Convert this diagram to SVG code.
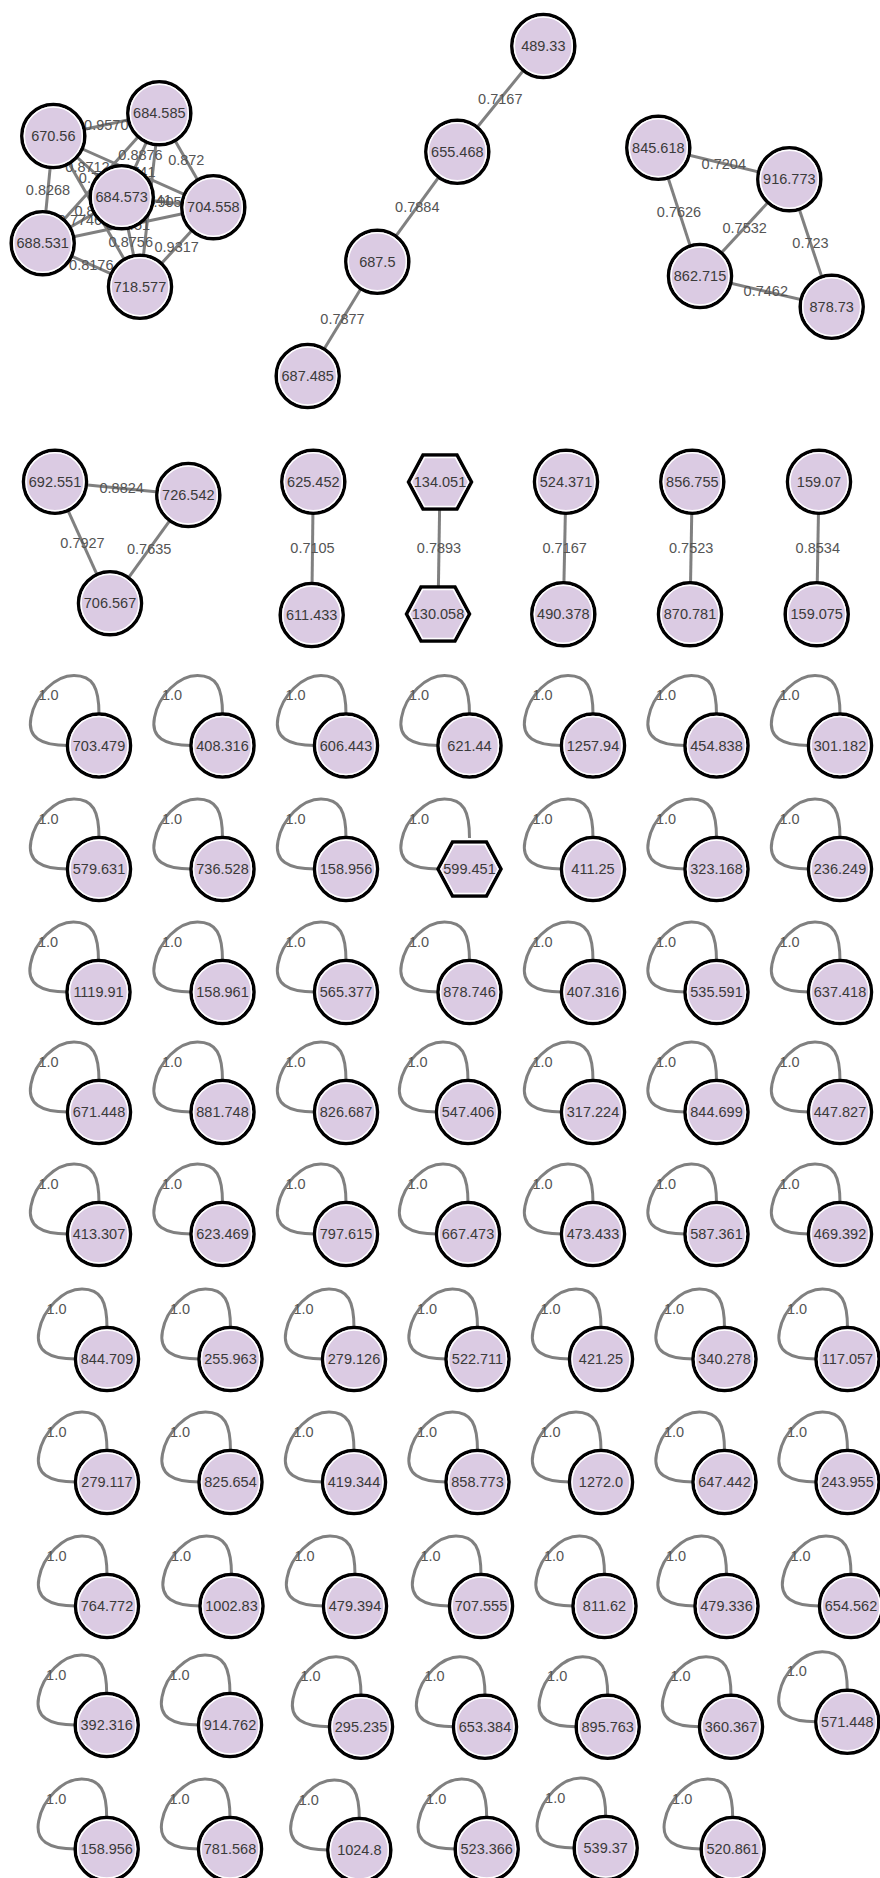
<svg xmlns="http://www.w3.org/2000/svg" width="880" height="1878" viewBox="0 0 880 1878">
<style>
.e{stroke:#808080;stroke-width:3;fill:none}
.lp{stroke:#808080;stroke-width:3;fill:none}
.el{font-family:"Liberation Sans",Arial,sans-serif;font-size:14.5px;fill:#555;text-anchor:middle}
.nb{fill:#dbcbe3;stroke:#000;stroke-width:3.5}
.nw{fill:none;stroke:#fff;stroke-width:1.5}
.nl{font-family:"Liberation Sans",Arial,sans-serif;font-size:14.5px;fill:#3a3a3a;text-anchor:middle}
</style>
<defs>
<path id="loop" d="M-31 0C-58 0-72-8-68-28C-64-50-44-70-25-70C-6-70 0-58 0-31"/>
</defs>
<rect width="880" height="1878" fill="#fff"/>
<g id="connectors">
<!-- cluster A -->
<line class="e" x1="53.3" y1="136" x2="159.3" y2="113.3"/>
<line class="e" x1="53.3" y1="136" x2="121.7" y2="197.3"/>
<line class="e" x1="53.3" y1="136" x2="213.3" y2="207.3"/>
<line class="e" x1="53.3" y1="136" x2="42.7" y2="243.3"/>
<line class="e" x1="53.3" y1="136" x2="140" y2="286.7"/>
<line class="e" x1="159.3" y1="113.3" x2="121.7" y2="197.3"/>
<line class="e" x1="159.3" y1="113.3" x2="213.3" y2="207.3"/>
<line class="e" x1="159.3" y1="113.3" x2="42.7" y2="243.3"/>
<line class="e" x1="159.3" y1="113.3" x2="140" y2="286.7"/>
<line class="e" x1="121.7" y1="197.3" x2="213.3" y2="207.3"/>
<line class="e" x1="121.7" y1="197.3" x2="42.7" y2="243.3"/>
<line class="e" x1="121.7" y1="197.3" x2="140" y2="286.7"/>
<line class="e" x1="213.3" y1="207.3" x2="42.7" y2="243.3"/>
<line class="e" x1="213.3" y1="207.3" x2="140" y2="286.7"/>
<line class="e" x1="42.7" y1="243.3" x2="140" y2="286.7"/>
<text class="el" x="106.3" y="129.7">0.9570</text>
<text class="el" x="87.5" y="171.7">0.8712</text>
<text class="el" x="133.3" y="176.7">0.8741</text>
<text class="el" x="48" y="194.7">0.8268</text>
<text class="el" x="96.7" y="216.3">0.8123</text>
<text class="el" x="140.5" y="160.3">0.8876</text>
<text class="el" x="186.3" y="165.3">0.872</text>
<text class="el" x="101" y="183.3">0.7813</text>
<text class="el" x="149.7" y="205">0.8841</text>
<text class="el" x="167.5" y="207.3">0.9058</text>
<text class="el" x="80" y="225.3">0.7746</text>
<text class="el" x="130.8" y="247">0.8756</text>
<text class="el" x="128" y="230.3">0.8451</text>
<text class="el" x="176.7" y="252">0.9317</text>
<text class="el" x="91.3" y="270">0.8176</text>
<!-- chain -->
<line class="e" x1="543.3" y1="46" x2="457.3" y2="151.7"/>
<line class="e" x1="457.3" y1="151.7" x2="377.3" y2="261.7"/>
<line class="e" x1="377.3" y1="261.7" x2="307.7" y2="376"/>
<text class="el" x="500.3" y="103.8">0.7167</text>
<text class="el" x="417.3" y="211.7">0.7884</text>
<text class="el" x="342.5" y="323.8">0.7877</text>
<!-- cluster C -->
<line class="e" x1="658.3" y1="147.7" x2="789.3" y2="179.3"/>
<line class="e" x1="658.3" y1="147.7" x2="700" y2="276"/>
<line class="e" x1="789.3" y1="179.3" x2="700" y2="276"/>
<line class="e" x1="789.3" y1="179.3" x2="831.7" y2="306.7"/>
<line class="e" x1="700" y1="276" x2="831.7" y2="306.7"/>
<text class="el" x="723.8" y="168.5">0.7204</text>
<text class="el" x="679" y="216.8">0.7626</text>
<text class="el" x="744.7" y="232.7">0.7532</text>
<text class="el" x="810.5" y="248">0.723</text>
<text class="el" x="765.8" y="296.3">0.7462</text>
<!-- triangle -->
<line class="e" x1="55" y1="481.7" x2="188.3" y2="495"/>
<line class="e" x1="55" y1="481.7" x2="110" y2="603.3"/>
<line class="e" x1="188.3" y1="495" x2="110" y2="603.3"/>
<text class="el" x="121.7" y="493.3">0.8824</text>
<text class="el" x="82.5" y="547.5">0.7927</text>
<text class="el" x="149.2" y="554.2">0.7635</text>
<!-- pairs -->
<line class="e" x1="313.3" y1="481.7" x2="311.7" y2="615"/>
<line class="e" x1="440" y1="482" x2="438" y2="614"/>
<line class="e" x1="566" y1="481.7" x2="563.3" y2="614.3"/>
<line class="e" x1="692.3" y1="481.7" x2="690" y2="614.3"/>
<line class="e" x1="819" y1="481.7" x2="816.7" y2="614.3"/>
<text class="el" x="312.5" y="553.3">0.7105</text>
<text class="el" x="439" y="553.3">0.7893</text>
<text class="el" x="564.7" y="553.3">0.7167</text>
<text class="el" x="691.2" y="553.3">0.7523</text>
<text class="el" x="817.8" y="553.3">0.8534</text>
<!-- self loops -->
<g transform="translate(99,745.5)"><use href="#loop" class="lp"/><text class="el" x="-50.5" y="-45.5">1.0</text></g>
<g transform="translate(222.5,745.5)"><use href="#loop" class="lp"/><text class="el" x="-50.5" y="-45.5">1.0</text></g>
<g transform="translate(346,745.5)"><use href="#loop" class="lp"/><text class="el" x="-50.5" y="-45.5">1.0</text></g>
<g transform="translate(469.5,745.5)"><use href="#loop" class="lp"/><text class="el" x="-50.5" y="-45.5">1.0</text></g>
<g transform="translate(593,745.5)"><use href="#loop" class="lp"/><text class="el" x="-50.5" y="-45.5">1.0</text></g>
<g transform="translate(716.5,745.5)"><use href="#loop" class="lp"/><text class="el" x="-50.5" y="-45.5">1.0</text></g>
<g transform="translate(840,745.5)"><use href="#loop" class="lp"/><text class="el" x="-50.5" y="-45.5">1.0</text></g>
<g transform="translate(99,869)"><use href="#loop" class="lp"/><text class="el" x="-50.5" y="-45.5">1.0</text></g>
<g transform="translate(222.5,869)"><use href="#loop" class="lp"/><text class="el" x="-50.5" y="-45.5">1.0</text></g>
<g transform="translate(346,869)"><use href="#loop" class="lp"/><text class="el" x="-50.5" y="-45.5">1.0</text></g>
<g transform="translate(469.5,869)"><use href="#loop" class="lp"/><text class="el" x="-50.5" y="-45.5">1.0</text></g>
<g transform="translate(593,869)"><use href="#loop" class="lp"/><text class="el" x="-50.5" y="-45.5">1.0</text></g>
<g transform="translate(716.5,869)"><use href="#loop" class="lp"/><text class="el" x="-50.5" y="-45.5">1.0</text></g>
<g transform="translate(840,869)"><use href="#loop" class="lp"/><text class="el" x="-50.5" y="-45.5">1.0</text></g>
<g transform="translate(98.5,992)"><use href="#loop" class="lp"/><text class="el" x="-50.5" y="-45.5">1.0</text></g>
<g transform="translate(222.5,992)"><use href="#loop" class="lp"/><text class="el" x="-50.5" y="-45.5">1.0</text></g>
<g transform="translate(346,992)"><use href="#loop" class="lp"/><text class="el" x="-50.5" y="-45.5">1.0</text></g>
<g transform="translate(469.5,992)"><use href="#loop" class="lp"/><text class="el" x="-50.5" y="-45.5">1.0</text></g>
<g transform="translate(593,992)"><use href="#loop" class="lp"/><text class="el" x="-50.5" y="-45.5">1.0</text></g>
<g transform="translate(716.5,992)"><use href="#loop" class="lp"/><text class="el" x="-50.5" y="-45.5">1.0</text></g>
<g transform="translate(840,992)"><use href="#loop" class="lp"/><text class="el" x="-50.5" y="-45.5">1.0</text></g>
<g transform="translate(99,1112)"><use href="#loop" class="lp"/><text class="el" x="-50.5" y="-45.5">1.0</text></g>
<g transform="translate(222.5,1112)"><use href="#loop" class="lp"/><text class="el" x="-50.5" y="-45.5">1.0</text></g>
<g transform="translate(346,1112)"><use href="#loop" class="lp"/><text class="el" x="-50.5" y="-45.5">1.0</text></g>
<g transform="translate(468,1112)"><use href="#loop" class="lp"/><text class="el" x="-50.5" y="-45.5">1.0</text></g>
<g transform="translate(593,1112)"><use href="#loop" class="lp"/><text class="el" x="-50.5" y="-45.5">1.0</text></g>
<g transform="translate(716.5,1112)"><use href="#loop" class="lp"/><text class="el" x="-50.5" y="-45.5">1.0</text></g>
<g transform="translate(840,1112)"><use href="#loop" class="lp"/><text class="el" x="-50.5" y="-45.5">1.0</text></g>
<g transform="translate(99,1234)"><use href="#loop" class="lp"/><text class="el" x="-50.5" y="-45.5">1.0</text></g>
<g transform="translate(222.5,1234)"><use href="#loop" class="lp"/><text class="el" x="-50.5" y="-45.5">1.0</text></g>
<g transform="translate(346,1234)"><use href="#loop" class="lp"/><text class="el" x="-50.5" y="-45.5">1.0</text></g>
<g transform="translate(468,1234)"><use href="#loop" class="lp"/><text class="el" x="-50.5" y="-45.5">1.0</text></g>
<g transform="translate(593,1234)"><use href="#loop" class="lp"/><text class="el" x="-50.5" y="-45.5">1.0</text></g>
<g transform="translate(716.5,1234)"><use href="#loop" class="lp"/><text class="el" x="-50.5" y="-45.5">1.0</text></g>
<g transform="translate(840,1234)"><use href="#loop" class="lp"/><text class="el" x="-50.5" y="-45.5">1.0</text></g>
<g transform="translate(107,1359)"><use href="#loop" class="lp"/><text class="el" x="-50.5" y="-45.5">1.0</text></g>
<g transform="translate(230.5,1359)"><use href="#loop" class="lp"/><text class="el" x="-50.5" y="-45.5">1.0</text></g>
<g transform="translate(354,1359)"><use href="#loop" class="lp"/><text class="el" x="-50.5" y="-45.5">1.0</text></g>
<g transform="translate(477.5,1359)"><use href="#loop" class="lp"/><text class="el" x="-50.5" y="-45.5">1.0</text></g>
<g transform="translate(601,1359)"><use href="#loop" class="lp"/><text class="el" x="-50.5" y="-45.5">1.0</text></g>
<g transform="translate(724.5,1359)"><use href="#loop" class="lp"/><text class="el" x="-50.5" y="-45.5">1.0</text></g>
<g transform="translate(847.5,1359)"><use href="#loop" class="lp"/><text class="el" x="-50.5" y="-45.5">1.0</text></g>
<g transform="translate(107,1482)"><use href="#loop" class="lp"/><text class="el" x="-50.5" y="-45.5">1.0</text></g>
<g transform="translate(230.5,1482)"><use href="#loop" class="lp"/><text class="el" x="-50.5" y="-45.5">1.0</text></g>
<g transform="translate(354,1482)"><use href="#loop" class="lp"/><text class="el" x="-50.5" y="-45.5">1.0</text></g>
<g transform="translate(477.5,1482)"><use href="#loop" class="lp"/><text class="el" x="-50.5" y="-45.5">1.0</text></g>
<g transform="translate(601,1482)"><use href="#loop" class="lp"/><text class="el" x="-50.5" y="-45.5">1.0</text></g>
<g transform="translate(724.5,1482)"><use href="#loop" class="lp"/><text class="el" x="-50.5" y="-45.5">1.0</text></g>
<g transform="translate(847.5,1482)"><use href="#loop" class="lp"/><text class="el" x="-50.5" y="-45.5">1.0</text></g>
<g transform="translate(107,1606)"><use href="#loop" class="lp"/><text class="el" x="-50.5" y="-45.5">1.0</text></g>
<g transform="translate(231.5,1606)"><use href="#loop" class="lp"/><text class="el" x="-50.5" y="-45.5">1.0</text></g>
<g transform="translate(355,1606)"><use href="#loop" class="lp"/><text class="el" x="-50.5" y="-45.5">1.0</text></g>
<g transform="translate(481,1606)"><use href="#loop" class="lp"/><text class="el" x="-50.5" y="-45.5">1.0</text></g>
<g transform="translate(604.5,1606)"><use href="#loop" class="lp"/><text class="el" x="-50.5" y="-45.5">1.0</text></g>
<g transform="translate(726.5,1606)"><use href="#loop" class="lp"/><text class="el" x="-50.5" y="-45.5">1.0</text></g>
<g transform="translate(851,1606)"><use href="#loop" class="lp"/><text class="el" x="-50.5" y="-45.5">1.0</text></g>
<g transform="translate(106.7,1725)"><use href="#loop" class="lp"/><text class="el" x="-50.5" y="-45.5">1.0</text></g>
<g transform="translate(230,1725)"><use href="#loop" class="lp"/><text class="el" x="-50.5" y="-45.5">1.0</text></g>
<g transform="translate(361,1726.7)"><use href="#loop" class="lp"/><text class="el" x="-50.5" y="-45.5">1.0</text></g>
<g transform="translate(485,1726.7)"><use href="#loop" class="lp"/><text class="el" x="-50.5" y="-45.5">1.0</text></g>
<g transform="translate(607.7,1726.7)"><use href="#loop" class="lp"/><text class="el" x="-50.5" y="-45.5">1.0</text></g>
<g transform="translate(731,1726.7)"><use href="#loop" class="lp"/><text class="el" x="-50.5" y="-45.5">1.0</text></g>
<g transform="translate(847.3,1721.7)"><use href="#loop" class="lp"/><text class="el" x="-50.5" y="-45.5">1.0</text></g>
<g transform="translate(106.7,1849)"><use href="#loop" class="lp"/><text class="el" x="-50.5" y="-45.5">1.0</text></g>
<g transform="translate(230,1849)"><use href="#loop" class="lp"/><text class="el" x="-50.5" y="-45.5">1.0</text></g>
<g transform="translate(359.3,1850)"><use href="#loop" class="lp"/><text class="el" x="-50.5" y="-45.5">1.0</text></g>
<g transform="translate(486.7,1849)"><use href="#loop" class="lp"/><text class="el" x="-50.5" y="-45.5">1.0</text></g>
<g transform="translate(605.7,1848)"><use href="#loop" class="lp"/><text class="el" x="-50.5" y="-45.5">1.0</text></g>
<g transform="translate(732.7,1849)"><use href="#loop" class="lp"/><text class="el" x="-50.5" y="-45.5">1.0</text></g>
</g>
<g id="nodes">
<g id="n670_56" transform="translate(53.3,136)"><circle class="nb" r="31.5"/><circle class="nw" r="29"/><text class="nl" y="5">670.56</text></g>
<g id="n684_585" transform="translate(159.3,113.3)"><circle class="nb" r="31.5"/><circle class="nw" r="29"/><text class="nl" y="5">684.585</text></g>
<g id="n684_573" transform="translate(121.7,197.3)"><circle class="nb" r="31.5"/><circle class="nw" r="29"/><text class="nl" y="5">684.573</text></g>
<g id="n704_558" transform="translate(213.3,207.3)"><circle class="nb" r="31.5"/><circle class="nw" r="29"/><text class="nl" y="5">704.558</text></g>
<g id="n688_531" transform="translate(42.7,243.3)"><circle class="nb" r="31.5"/><circle class="nw" r="29"/><text class="nl" y="5">688.531</text></g>
<g id="n718_577" transform="translate(140,286.7)"><circle class="nb" r="31.5"/><circle class="nw" r="29"/><text class="nl" y="5">718.577</text></g>
<g id="n489_33" transform="translate(543.3,46)"><circle class="nb" r="31.5"/><circle class="nw" r="29"/><text class="nl" y="5">489.33</text></g>
<g id="n655_468" transform="translate(457.3,151.7)"><circle class="nb" r="31.5"/><circle class="nw" r="29"/><text class="nl" y="5">655.468</text></g>
<g id="n687_5" transform="translate(377.3,261.7)"><circle class="nb" r="31.5"/><circle class="nw" r="29"/><text class="nl" y="5">687.5</text></g>
<g id="n687_485" transform="translate(307.7,376)"><circle class="nb" r="31.5"/><circle class="nw" r="29"/><text class="nl" y="5">687.485</text></g>
<g id="n845_618" transform="translate(658.3,147.7)"><circle class="nb" r="31.5"/><circle class="nw" r="29"/><text class="nl" y="5">845.618</text></g>
<g id="n916_773" transform="translate(789.3,179.3)"><circle class="nb" r="31.5"/><circle class="nw" r="29"/><text class="nl" y="5">916.773</text></g>
<g id="n862_715" transform="translate(700,276)"><circle class="nb" r="31.5"/><circle class="nw" r="29"/><text class="nl" y="5">862.715</text></g>
<g id="n878_73" transform="translate(831.7,306.7)"><circle class="nb" r="31.5"/><circle class="nw" r="29"/><text class="nl" y="5">878.73</text></g>
<g id="n692_551" transform="translate(55,481.7)"><circle class="nb" r="31.5"/><circle class="nw" r="29"/><text class="nl" y="5">692.551</text></g>
<g id="n726_542" transform="translate(188.3,495)"><circle class="nb" r="31.5"/><circle class="nw" r="29"/><text class="nl" y="5">726.542</text></g>
<g id="n706_567" transform="translate(110,603.3)"><circle class="nb" r="31.5"/><circle class="nw" r="29"/><text class="nl" y="5">706.567</text></g>
<g id="n625_452" transform="translate(313.3,481.7)"><circle class="nb" r="31.5"/><circle class="nw" r="29"/><text class="nl" y="5">625.452</text></g>
<g id="n611_433" transform="translate(311.7,615)"><circle class="nb" r="31.5"/><circle class="nw" r="29"/><text class="nl" y="5">611.433</text></g>
<g id="n134_051" transform="translate(440,482)"><polygon class="nb" points="-31.5,0 -17,-27 17,-27 31.5,0 17,27 -17,27"/><polygon class="nw" points="-28.5,0 -15.3,-24.6 15.3,-24.6 28.5,0 15.3,24.6 -15.3,24.6"/><text class="nl" y="5">134.051</text></g>
<g id="n130_058" transform="translate(438,614)"><polygon class="nb" points="-31.5,0 -17,-27 17,-27 31.5,0 17,27 -17,27"/><polygon class="nw" points="-28.5,0 -15.3,-24.6 15.3,-24.6 28.5,0 15.3,24.6 -15.3,24.6"/><text class="nl" y="5">130.058</text></g>
<g id="n524_371" transform="translate(566,481.7)"><circle class="nb" r="31.5"/><circle class="nw" r="29"/><text class="nl" y="5">524.371</text></g>
<g id="n490_378" transform="translate(563.3,614.3)"><circle class="nb" r="31.5"/><circle class="nw" r="29"/><text class="nl" y="5">490.378</text></g>
<g id="n856_755" transform="translate(692.3,481.7)"><circle class="nb" r="31.5"/><circle class="nw" r="29"/><text class="nl" y="5">856.755</text></g>
<g id="n870_781" transform="translate(690,614.3)"><circle class="nb" r="31.5"/><circle class="nw" r="29"/><text class="nl" y="5">870.781</text></g>
<g id="n159_07" transform="translate(819,481.7)"><circle class="nb" r="31.5"/><circle class="nw" r="29"/><text class="nl" y="5">159.07</text></g>
<g id="n159_075" transform="translate(816.7,614.3)"><circle class="nb" r="31.5"/><circle class="nw" r="29"/><text class="nl" y="5">159.075</text></g>
<g id="n703_479" transform="translate(99,745.5)"><circle class="nb" r="31.5"/><circle class="nw" r="29"/><text class="nl" y="5">703.479</text></g>
<g id="n408_316" transform="translate(222.5,745.5)"><circle class="nb" r="31.5"/><circle class="nw" r="29"/><text class="nl" y="5">408.316</text></g>
<g id="n606_443" transform="translate(346,745.5)"><circle class="nb" r="31.5"/><circle class="nw" r="29"/><text class="nl" y="5">606.443</text></g>
<g id="n621_44" transform="translate(469.5,745.5)"><circle class="nb" r="31.5"/><circle class="nw" r="29"/><text class="nl" y="5">621.44</text></g>
<g id="n1257_94" transform="translate(593,745.5)"><circle class="nb" r="31.5"/><circle class="nw" r="29"/><text class="nl" y="5">1257.94</text></g>
<g id="n454_838" transform="translate(716.5,745.5)"><circle class="nb" r="31.5"/><circle class="nw" r="29"/><text class="nl" y="5">454.838</text></g>
<g id="n301_182" transform="translate(840,745.5)"><circle class="nb" r="31.5"/><circle class="nw" r="29"/><text class="nl" y="5">301.182</text></g>
<g id="n579_631" transform="translate(99,869)"><circle class="nb" r="31.5"/><circle class="nw" r="29"/><text class="nl" y="5">579.631</text></g>
<g id="n736_528" transform="translate(222.5,869)"><circle class="nb" r="31.5"/><circle class="nw" r="29"/><text class="nl" y="5">736.528</text></g>
<g id="n158_956a" transform="translate(346,869)"><circle class="nb" r="31.5"/><circle class="nw" r="29"/><text class="nl" y="5">158.956</text></g>
<g id="n599_451" transform="translate(469.5,869)"><polygon class="nb" points="-31.5,0 -17,-27 17,-27 31.5,0 17,27 -17,27"/><polygon class="nw" points="-28.5,0 -15.3,-24.6 15.3,-24.6 28.5,0 15.3,24.6 -15.3,24.6"/><text class="nl" y="5">599.451</text></g>
<g id="n411_25a" transform="translate(593,869)"><circle class="nb" r="31.5"/><circle class="nw" r="29"/><text class="nl" y="5">411.25</text></g>
<g id="n323_168" transform="translate(716.5,869)"><circle class="nb" r="31.5"/><circle class="nw" r="29"/><text class="nl" y="5">323.168</text></g>
<g id="n236_249" transform="translate(840,869)"><circle class="nb" r="31.5"/><circle class="nw" r="29"/><text class="nl" y="5">236.249</text></g>
<g id="n1119_91" transform="translate(98.5,992)"><circle class="nb" r="31.5"/><circle class="nw" r="29"/><text class="nl" y="5">1119.91</text></g>
<g id="n158_961" transform="translate(222.5,992)"><circle class="nb" r="31.5"/><circle class="nw" r="29"/><text class="nl" y="5">158.961</text></g>
<g id="n565_377" transform="translate(346,992)"><circle class="nb" r="31.5"/><circle class="nw" r="29"/><text class="nl" y="5">565.377</text></g>
<g id="n878_746" transform="translate(469.5,992)"><circle class="nb" r="31.5"/><circle class="nw" r="29"/><text class="nl" y="5">878.746</text></g>
<g id="n407_316" transform="translate(593,992)"><circle class="nb" r="31.5"/><circle class="nw" r="29"/><text class="nl" y="5">407.316</text></g>
<g id="n535_591" transform="translate(716.5,992)"><circle class="nb" r="31.5"/><circle class="nw" r="29"/><text class="nl" y="5">535.591</text></g>
<g id="n637_418" transform="translate(840,992)"><circle class="nb" r="31.5"/><circle class="nw" r="29"/><text class="nl" y="5">637.418</text></g>
<g id="n671_448" transform="translate(99,1112)"><circle class="nb" r="31.5"/><circle class="nw" r="29"/><text class="nl" y="5">671.448</text></g>
<g id="n881_748" transform="translate(222.5,1112)"><circle class="nb" r="31.5"/><circle class="nw" r="29"/><text class="nl" y="5">881.748</text></g>
<g id="n826_687" transform="translate(346,1112)"><circle class="nb" r="31.5"/><circle class="nw" r="29"/><text class="nl" y="5">826.687</text></g>
<g id="n547_406" transform="translate(468,1112)"><circle class="nb" r="31.5"/><circle class="nw" r="29"/><text class="nl" y="5">547.406</text></g>
<g id="n317_224" transform="translate(593,1112)"><circle class="nb" r="31.5"/><circle class="nw" r="29"/><text class="nl" y="5">317.224</text></g>
<g id="n844_699" transform="translate(716.5,1112)"><circle class="nb" r="31.5"/><circle class="nw" r="29"/><text class="nl" y="5">844.699</text></g>
<g id="n447_827" transform="translate(840,1112)"><circle class="nb" r="31.5"/><circle class="nw" r="29"/><text class="nl" y="5">447.827</text></g>
<g id="n413_307" transform="translate(99,1234)"><circle class="nb" r="31.5"/><circle class="nw" r="29"/><text class="nl" y="5">413.307</text></g>
<g id="n623_469" transform="translate(222.5,1234)"><circle class="nb" r="31.5"/><circle class="nw" r="29"/><text class="nl" y="5">623.469</text></g>
<g id="n797_615" transform="translate(346,1234)"><circle class="nb" r="31.5"/><circle class="nw" r="29"/><text class="nl" y="5">797.615</text></g>
<g id="n667_473" transform="translate(468,1234)"><circle class="nb" r="31.5"/><circle class="nw" r="29"/><text class="nl" y="5">667.473</text></g>
<g id="n473_433" transform="translate(593,1234)"><circle class="nb" r="31.5"/><circle class="nw" r="29"/><text class="nl" y="5">473.433</text></g>
<g id="n587_361" transform="translate(716.5,1234)"><circle class="nb" r="31.5"/><circle class="nw" r="29"/><text class="nl" y="5">587.361</text></g>
<g id="n469_392" transform="translate(840,1234)"><circle class="nb" r="31.5"/><circle class="nw" r="29"/><text class="nl" y="5">469.392</text></g>
<g id="n844_709" transform="translate(107,1359)"><circle class="nb" r="31.5"/><circle class="nw" r="29"/><text class="nl" y="5">844.709</text></g>
<g id="n255_963" transform="translate(230.5,1359)"><circle class="nb" r="31.5"/><circle class="nw" r="29"/><text class="nl" y="5">255.963</text></g>
<g id="n279_126" transform="translate(354,1359)"><circle class="nb" r="31.5"/><circle class="nw" r="29"/><text class="nl" y="5">279.126</text></g>
<g id="n522_711" transform="translate(477.5,1359)"><circle class="nb" r="31.5"/><circle class="nw" r="29"/><text class="nl" y="5">522.711</text></g>
<g id="n421_25b" transform="translate(601,1359)"><circle class="nb" r="31.5"/><circle class="nw" r="29"/><text class="nl" y="5">421.25</text></g>
<g id="n340_278" transform="translate(724.5,1359)"><circle class="nb" r="31.5"/><circle class="nw" r="29"/><text class="nl" y="5">340.278</text></g>
<g id="n117_057" transform="translate(847.5,1359)"><circle class="nb" r="31.5"/><circle class="nw" r="29"/><text class="nl" y="5">117.057</text></g>
<g id="n279_117" transform="translate(107,1482)"><circle class="nb" r="31.5"/><circle class="nw" r="29"/><text class="nl" y="5">279.117</text></g>
<g id="n825_654" transform="translate(230.5,1482)"><circle class="nb" r="31.5"/><circle class="nw" r="29"/><text class="nl" y="5">825.654</text></g>
<g id="n419_344" transform="translate(354,1482)"><circle class="nb" r="31.5"/><circle class="nw" r="29"/><text class="nl" y="5">419.344</text></g>
<g id="n858_773" transform="translate(477.5,1482)"><circle class="nb" r="31.5"/><circle class="nw" r="29"/><text class="nl" y="5">858.773</text></g>
<g id="n1272_0" transform="translate(601,1482)"><circle class="nb" r="31.5"/><circle class="nw" r="29"/><text class="nl" y="5">1272.0</text></g>
<g id="n647_442" transform="translate(724.5,1482)"><circle class="nb" r="31.5"/><circle class="nw" r="29"/><text class="nl" y="5">647.442</text></g>
<g id="n243_955" transform="translate(847.5,1482)"><circle class="nb" r="31.5"/><circle class="nw" r="29"/><text class="nl" y="5">243.955</text></g>
<g id="n764_772" transform="translate(107,1606)"><circle class="nb" r="31.5"/><circle class="nw" r="29"/><text class="nl" y="5">764.772</text></g>
<g id="n1002_83" transform="translate(231.5,1606)"><circle class="nb" r="31.5"/><circle class="nw" r="29"/><text class="nl" y="5">1002.83</text></g>
<g id="n479_394" transform="translate(355,1606)"><circle class="nb" r="31.5"/><circle class="nw" r="29"/><text class="nl" y="5">479.394</text></g>
<g id="n707_555" transform="translate(481,1606)"><circle class="nb" r="31.5"/><circle class="nw" r="29"/><text class="nl" y="5">707.555</text></g>
<g id="n811_62" transform="translate(604.5,1606)"><circle class="nb" r="31.5"/><circle class="nw" r="29"/><text class="nl" y="5">811.62</text></g>
<g id="n479_336" transform="translate(726.5,1606)"><circle class="nb" r="31.5"/><circle class="nw" r="29"/><text class="nl" y="5">479.336</text></g>
<g id="n654_562" transform="translate(851,1606)"><circle class="nb" r="31.5"/><circle class="nw" r="29"/><text class="nl" y="5">654.562</text></g>
<g id="n392_316" transform="translate(106.7,1725)"><circle class="nb" r="31.5"/><circle class="nw" r="29"/><text class="nl" y="5">392.316</text></g>
<g id="n914_762" transform="translate(230,1725)"><circle class="nb" r="31.5"/><circle class="nw" r="29"/><text class="nl" y="5">914.762</text></g>
<g id="n295_235" transform="translate(361,1726.7)"><circle class="nb" r="31.5"/><circle class="nw" r="29"/><text class="nl" y="5">295.235</text></g>
<g id="n653_384" transform="translate(485,1726.7)"><circle class="nb" r="31.5"/><circle class="nw" r="29"/><text class="nl" y="5">653.384</text></g>
<g id="n895_763" transform="translate(607.7,1726.7)"><circle class="nb" r="31.5"/><circle class="nw" r="29"/><text class="nl" y="5">895.763</text></g>
<g id="n360_367" transform="translate(731,1726.7)"><circle class="nb" r="31.5"/><circle class="nw" r="29"/><text class="nl" y="5">360.367</text></g>
<g id="n571_448" transform="translate(847.3,1721.7)"><circle class="nb" r="31.5"/><circle class="nw" r="29"/><text class="nl" y="5">571.448</text></g>
<g id="n158_956b" transform="translate(106.7,1849)"><circle class="nb" r="31.5"/><circle class="nw" r="29"/><text class="nl" y="5">158.956</text></g>
<g id="n781_568" transform="translate(230,1849)"><circle class="nb" r="31.5"/><circle class="nw" r="29"/><text class="nl" y="5">781.568</text></g>
<g id="n1024_8" transform="translate(359.3,1850)"><circle class="nb" r="31.5"/><circle class="nw" r="29"/><text class="nl" y="5">1024.8</text></g>
<g id="n523_366" transform="translate(486.7,1849)"><circle class="nb" r="31.5"/><circle class="nw" r="29"/><text class="nl" y="5">523.366</text></g>
<g id="n539_37" transform="translate(605.7,1848)"><circle class="nb" r="31.5"/><circle class="nw" r="29"/><text class="nl" y="5">539.37</text></g>
<g id="n520_861" transform="translate(732.7,1849)"><circle class="nb" r="31.5"/><circle class="nw" r="29"/><text class="nl" y="5">520.861</text></g>
</g>
</svg>
